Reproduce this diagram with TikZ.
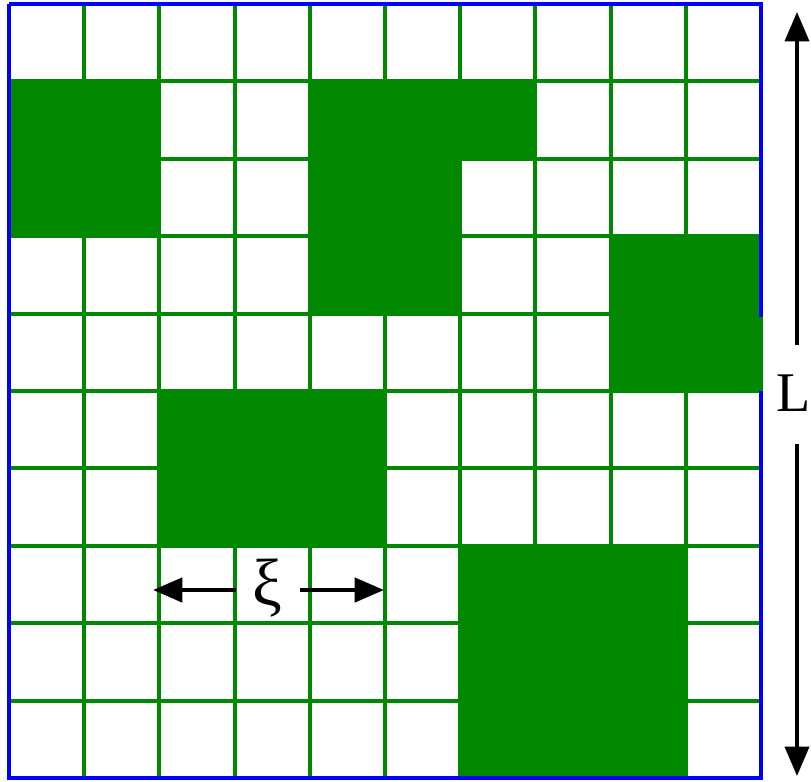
\documentclass[tikz,border=0pt]{standalone}
\usepackage{fontspec}
\setmainfont{Liberation Serif}
\usetikzlibrary{arrows.meta}
\definecolor{gridgreen}{RGB}{0,136,0}
\definecolor{frameblue}{RGB}{0,0,255}
\begin{document}
\begin{tikzpicture}[x=0.75pt,y=-0.75pt,
  gridline/.style={draw=gridgreen,line width=2.9pt},
  block/.style={fill=gridgreen},
  frame/.style={draw=frameblue,line width=3pt},
  dimarrow/.style={-{Triangle[length=22pt,width=18pt]},line width=3.4pt,black},
  lbl/.style={inner sep=0pt,font=\fontsize{42}{42}\selectfont}]
\useasboundingbox (0,0) rectangle (811,782);
% grid
\foreach \i in {1,...,9}{
  \draw[gridline] ({9+75.2*\i},4) -- ({9+75.2*\i},778);
  \draw[gridline] (9,{4+77.4*\i}) -- (761,{4+77.4*\i});
}
% green blocks
\fill[block] (9,81.4) rectangle (159.4,236.2);
\fill[block] (309.8,81.4) rectangle (535.4,158.8);
\fill[block] (309.8,158.8) rectangle (460.6,313.6);
\fill[block] (610.6,236.2) rectangle (763,391);
\fill[block] (159.4,391) rectangle (385.0,545.8);
\fill[block] (460.6,545.8) rectangle (686.0,778);
% frame
\draw[frame] (9,4) -- (761,4) -- (761,317);
\draw[frame] (761,391) -- (761,778) -- (9,778) -- (9,4);
% xi dimension
\node[lbl,font=\fontsize{50}{50}\selectfont] (xi) at (267,588) {ξ};
\coordinate (xl) at (153,590);
\coordinate (xr) at (384,590);
\draw[dimarrow] (236,590) -- (xl);
\draw[dimarrow] (300,590) -- (xr);
% L dimension
\node[lbl] (L) at (794,393) {L};
\coordinate (Lt) at (797,12);
\coordinate (Lb) at (797,776);
\draw[dimarrow,line width=2.8pt] (797,345) -- (Lt);
\draw[dimarrow,line width=2.8pt] (797,444) -- (Lb);
\end{tikzpicture}
\end{document}
